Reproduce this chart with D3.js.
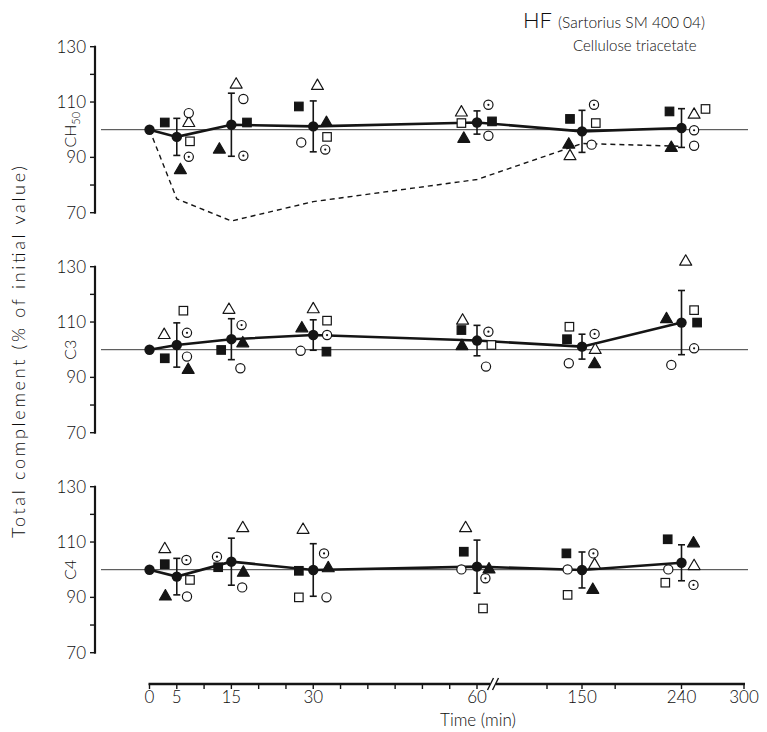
<!DOCTYPE html>
<html>
<head>
<meta charset="utf-8">
<script src="https://cdn.jsdelivr.net/npm/d3@7"></script>
<style>
  body { margin: 0; background: #fff; }
  svg { display: block; }
  text { font-family: Lato, "Open Sans", "DejaVu Sans", sans-serif; fill: #0d0d0d; }
</style>
</head>
<body>
<svg id="chart" width="767" height="732"></svg>
<script>
// Sampling times (min)
const times = [0, 5, 15, 30, 60, 150, 240];

// Group means and standard deviations (% of initial value)
const ch50Mean = [100, 97.4, 101.8, 101.2, 102.6, 99.4, 100.6];
const ch50Sd   = [0, 6.7, 11.4, 9.2, 4.2, 7.6, 7.0];
const c3Mean   = [100, 101.7, 103.8, 105.3, 103.3, 101.1, 109.8];
const c3Sd     = [0, 8.0, 7.4, 5.5, 5.5, 4.5, 11.6];
const c4Mean   = [100, 97.5, 102.9, 99.9, 101.1, 99.9, 102.5];
const c4Sd     = [0, 6.6, 8.5, 9.5, 9.6, 6.5, 6.5];

// CH50 course of a single patient (dashed trace)
const ch50Single = [100, 75, 67, 74, 82, 95, 94];

// Individual patients: [time, marker, value, side of the mean]
// markers: sqF ■, sqO □, triF ▲, triO △, circO ○, circD ⊙
const ch50Points = [
  [5,"sqF",102.6,-1],[5,"triO",102.4,1],[5,"circO",106.0,1],[5,"sqO",95.8,1.1],[5,"circD",90.2,1],[5,"triF",85.4,0.3],
  [15,"triO",116.3,0.4],[15,"circO",111.1,1],[15,"sqF",102.6,1.3],[15,"triF",92.8,-1],[15,"circD",90.6,1],
  [30,"triO",115.8,0.35],[30,"sqF",108.4,-1.2],[30,"triF",102.4,1.1],[30,"circO",95.4,-1],[30,"sqO",97.4,1.15],[30,"circD",92.8,1],
  [60,"circD",109.0,0.95],[60,"triO",106.2,-1.3],[60,"sqO",102.4,-1.3],[60,"sqF",103.0,1.25],[60,"triF",96.7,-1.1],[60,"circO",97.8,0.95],
  [150,"circD",109.0,1],[150,"sqF",103.9,-1],[150,"sqO",102.4,1.15],[150,"triF",94.6,-1.1],[150,"circO",94.6,0.8],[150,"triO",90.4,-1],
  [240,"sqF",106.6,-1],[240,"triO",105.4,1.05],[240,"sqO",107.5,2],[240,"circD",99.8,1.05],[240,"triF",93.4,-0.85],[240,"circO",94.2,1.05]
];
const c3Points = [
  [5,"sqO",114.1,0.55],[5,"triO",105.3,-1.05],[5,"circD",106.1,0.85],[5,"circO",97.5,0.85],[5,"sqF",96.9,-1],[5,"triF",92.7,0.95],
  [15,"triO",114.4,-0.2],[15,"circD",108.9,0.85],[15,"triF",102.3,0.95],[15,"sqF",99.9,-0.85],[15,"circO",93.3,0.75],
  [30,"triO",114.6,0],[30,"sqO",110.5,1.15],[30,"triF",107.7,-0.95],[30,"circD",105.3,1.15],[30,"circO",99.6,-1.05],[30,"sqF",99.3,1.1],
  [60,"triO",110.5,-1.2],[60,"sqF",107.1,-1.3],[60,"circD",106.5,0.95],[60,"triF",101.3,-1.25],[60,"sqO",101.7,1.2],[60,"circO",93.9,0.75],
  [150,"sqO",108.3,-1.05],[150,"sqF",103.8,-1.25],[150,"circD",105.7,1.05],[150,"triO",99.9,1.1],[150,"circO",95.1,-1.1],[150,"triF",94.8,1.05],
  [240,"triO",131.8,0.35],[240,"sqO",114.3,1.05],[240,"triF",111.0,-1.25],[240,"sqF",109.8,1.3],[240,"circD",100.5,1.05],[240,"circO",94.5,-0.85]
];
const c4Points = [
  [5,"triO",107.4,-1],[5,"sqF",102.0,-1],[5,"circD",103.5,0.8],[5,"sqO",96.3,1.1],[5,"triF",90.3,-0.95],[5,"circO",90.3,0.85],
  [15,"triO",115.0,0.95],[15,"circD",104.7,-1.2],[15,"sqF",100.9,-1.1],[15,"triF",98.9,1.0],[15,"circO",93.6,0.9],
  [30,"triO",114.4,-0.85],[30,"circD",105.9,0.9],[30,"sqF",99.6,-1.2],[30,"triF",100.5,1.25],[30,"sqO",90.0,-1.2],[30,"circO",90.0,1.1],
  [60,"triO",115.0,-0.95],[60,"sqF",106.5,-1.1],[60,"circO",100.1,-1.3],[60,"triF",100.1,1.0],[60,"circD",96.9,0.7],[60,"sqO",86.0,0.5],
  [150,"sqF",105.9,-1.3],[150,"circD",105.9,0.95],[150,"circO",100.1,-1.2],[150,"triO",101.7,1.05],[150,"sqO",90.9,-1.2],[150,"triF",92.7,0.9],
  [240,"sqF",111.0,-1.15],[240,"triF",109.5,1.0],[240,"triO",101.3,1.05],[240,"circO",100.1,-1.1],[240,"sqO",95.3,-1.35],[240,"circD",94.5,1.0]
];

const yTicks = [70, 80, 90, 110, 120, 130];
const yTickLabels = [70, 90, 110, 130];
const xTicks = [0, 5, 10, 15, 20, 25, 30, 35, 40, 45, 50, 55, 60, 120, 150, 180, 240, 300];
const xTickLabels = [0, 5, 15, 30, 60, 150, 240, 300];

const panels = [
  { name: "CH", sub: "50", top: 46.7, mean: ch50Mean, sd: ch50Sd, points: ch50Points, single: ch50Single },
  { name: "C3", sub: "", top: 266.7, mean: c3Mean, sd: c3Sd, points: c3Points },
  { name: "C4", sub: "", top: 486.7, mean: c4Mean, sd: c4Sd, points: c4Points }
];

const svg = d3.select("#chart");
const ink = "#151515";
const axisX = 95;
const panelH = 166;
const dodge = 12;

// Time axis with a break between 60 and 150 min
const x = d3.scaleLinear()
  .domain([0, 60, 150, 240, 300])
  .range([149.5, 477, 582, 681.5, 744]);

function drawMarker(g, kind, cx, cy) {
  if (kind === "sqF" || kind === "sqO") {
    const s = 8.5;
    g.append("rect").attr("x", cx - s / 2).attr("y", cy - s / 2).attr("width", s).attr("height", s)
      .attr("fill", kind === "sqF" ? ink : "#fff").attr("stroke", ink).attr("stroke-width", 1.2);
  } else if (kind === "triF" || kind === "triO") {
    g.append("path").attr("d", d3.symbol(d3.symbolTriangle, 62)())
      .attr("transform", `translate(${cx},${cy})`)
      .attr("fill", kind === "triF" ? ink : "#fff").attr("stroke", ink).attr("stroke-width", 1.2)
      .attr("stroke-linejoin", "round");
  } else {
    g.append("circle").attr("cx", cx).attr("cy", cy).attr("r", 4.6)
      .attr("fill", "#fff").attr("stroke", ink).attr("stroke-width", 1.2);
    if (kind === "circD") {
      g.append("circle").attr("cx", cx).attr("cy", cy).attr("r", 1.1).attr("fill", ink);
    }
  }
}

panels.forEach(p => {
  const y = d3.scaleLinear().domain([70, 130]).range([p.top + panelH, p.top]);
  const g = svg.append("g");

  // value axis
  g.append("line").attr("x1", axisX).attr("x2", axisX).attr("y1", y(130) - 1).attr("y2", y(70) + 1)
    .attr("stroke", ink).attr("stroke-width", 2.2);
  g.selectAll(".yt").data(yTicks).join("line")
    .attr("x1", axisX - 5).attr("x2", axisX).attr("y1", d => y(d)).attr("y2", d => y(d))
    .attr("stroke", ink).attr("stroke-width", 1.4);
  g.selectAll(".yl").data(yTickLabels).join("text")
    .attr("x", axisX - 9).attr("y", d => y(d)).attr("dy", "0.36em")
    .attr("text-anchor", "end").attr("font-size", 17).attr("font-weight", 300)
    .text(d => d);

  // panel label
  const lab = g.append("text")
    .attr("transform", `translate(${axisX - 19},${y(100)}) rotate(-90)`)
    .attr("text-anchor", "middle").attr("font-size", 16).attr("font-weight", 300)
    .text(p.name);
  if (p.sub) lab.append("tspan").attr("font-size", 11).attr("dy", 4).text(p.sub);

  // 100 % reference line
  g.append("line").attr("x1", axisX + 6).attr("x2", x(300) + 4).attr("y1", y(100)).attr("y2", y(100))
    .attr("stroke", "#3a3a3a").attr("stroke-width", 1);

  // single-patient trace
  if (p.single) {
    const sl = d3.line().x((d, i) => x(times[i])).y(d => y(d));
    g.append("path").attr("d", sl(p.single)).attr("fill", "none")
      .attr("stroke", ink).attr("stroke-width", 1.4).attr("stroke-dasharray", "5,4");
  }

  // mean course
  const ml = d3.line().x((d, i) => x(times[i])).y(d => y(d));
  g.append("path").attr("d", ml(p.mean)).attr("fill", "none")
    .attr("stroke", ink).attr("stroke-width", 2.6);

  // error bars
  times.forEach((t, i) => {
    if (!p.sd[i]) return;
    const cx = x(t), hi = y(p.mean[i] + p.sd[i]), lo = y(p.mean[i] - p.sd[i]);
    g.append("line").attr("x1", cx).attr("x2", cx).attr("y1", hi).attr("y2", lo)
      .attr("stroke", ink).attr("stroke-width", 1.6);
    [hi, lo].forEach(v => g.append("line").attr("x1", cx - 3.5).attr("x2", cx + 3.5)
      .attr("y1", v).attr("y2", v).attr("stroke", ink).attr("stroke-width", 1.6));
  });

  // individual values
  p.points.forEach(([t, kind, v, side]) => drawMarker(g, kind, x(t) + side * dodge, y(v)));

  // means
  g.selectAll(".mean").data(p.mean).join("circle")
    .attr("cx", (d, i) => x(times[i])).attr("cy", d => y(d)).attr("r", 5.2).attr("fill", ink);
});

// y axis title
svg.append("text")
  .attr("transform", "translate(25,352) rotate(-90)")
  .attr("text-anchor", "middle").attr("font-size", 18).attr("font-weight", 300)
  .attr("textLength", 372).attr("lengthAdjust", "spacing")
  .text("Total complement (% of initial value)");

// time axis
const axY = 684;
const ax = svg.append("g");
ax.append("line").attr("x1", x(0) - 1).attr("x2", x(300) + 1).attr("y1", axY).attr("y2", axY)
  .attr("stroke", ink).attr("stroke-width", 2.4);
ax.selectAll(".xt").data(xTicks).join("line")
  .attr("x1", d => x(d)).attr("x2", d => x(d)).attr("y1", axY).attr("y2", axY + 5)
  .attr("stroke", ink).attr("stroke-width", 1.4);
ax.selectAll(".xl").data(xTickLabels).join("text")
  .attr("x", d => x(d)).attr("y", axY + 19).attr("text-anchor", "middle")
  .attr("font-size", 17).attr("font-weight", 300).text(d => d);
// axis break
const bx = 493;
ax.append("rect").attr("x", bx - 3).attr("y", axY - 3).attr("width", 6).attr("height", 6).attr("fill", "#fff");
[-2.5, 2.5].forEach(o => ax.append("line")
  .attr("x1", bx + o - 3).attr("x2", bx + o + 3).attr("y1", axY + 6).attr("y2", axY - 6)
  .attr("stroke", ink).attr("stroke-width", 1.4));
ax.append("text").attr("x", 478).attr("y", 726).attr("text-anchor", "middle")
  .attr("font-size", 17).attr("font-weight", 300).text("Time (min)");

// heading
const head = svg.append("text").attr("x", 523).attr("y", 28).attr("font-weight", 300);
head.append("tspan").attr("font-size", 22).text("HF");
head.append("tspan").attr("font-size", 15.5).attr("dx", 6).text("(Sartorius SM 400 04)");
svg.append("text").attr("x", 573).attr("y", 51).attr("font-size", 15).attr("font-weight", 300)
  .text("Cellulose triacetate");
</script>
</body>
</html>
